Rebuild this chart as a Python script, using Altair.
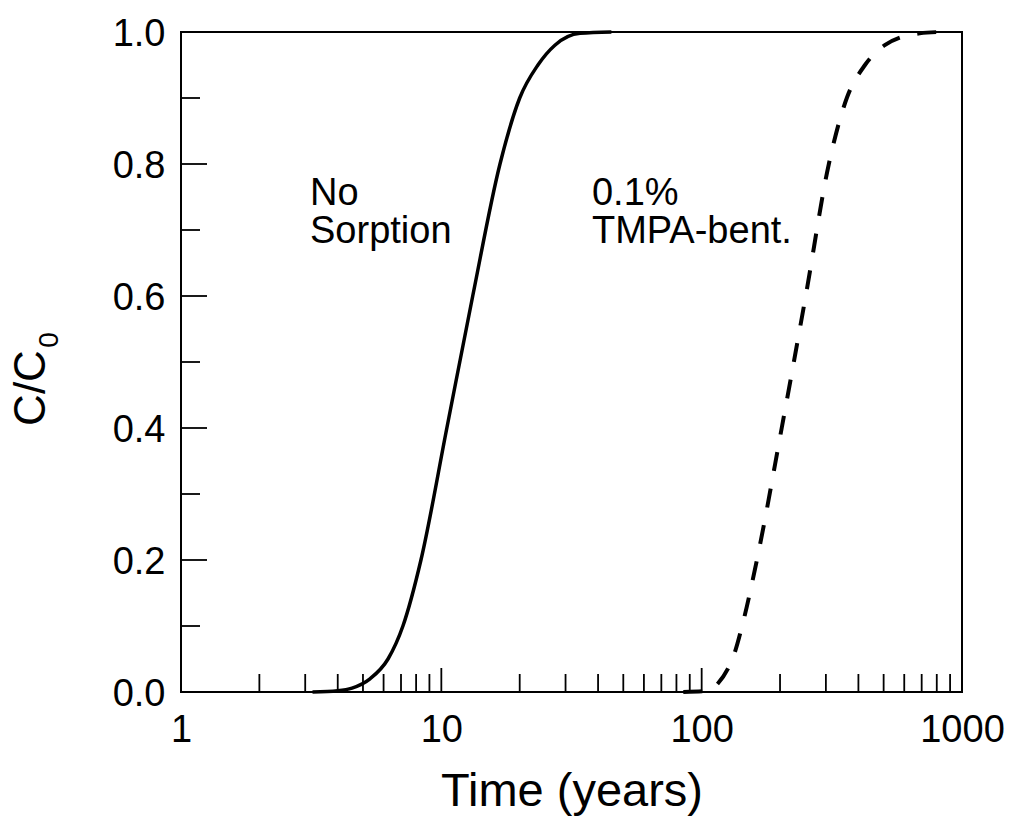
import altair as alt
import pandas as pd

# ---- data ----
solid_t = [3.2, 4.0, 4.54, 5.32, 6.24, 7.12, 8.35, 10.5, 13.2, 16.8, 20.0, 23.5, 27.3, 34.1, 45.0]
solid_c = [0.0, 0.002, 0.006, 0.02, 0.05, 0.1, 0.2, 0.4, 0.6, 0.8, 0.9, 0.95, 0.98, 0.998, 1.0]

dash_t = [85, 108, 115, 126, 134, 143, 163, 203, 251, 308, 361, 424, 505, 688, 822]
dash_c = [0.0, 0.002, 0.012, 0.035, 0.06, 0.1, 0.2, 0.4, 0.6, 0.8, 0.9, 0.95, 0.98, 0.998, 1.0]

x_minor = [2, 3, 4, 5, 6, 7, 8, 9, 20, 30, 40, 50, 60, 70, 80, 90, 200, 300, 400, 500, 600, 700, 800, 900]
x_major = [10, 100]
x_labels = [1, 10, 100, 1000]
y_minor = [0.1, 0.3, 0.5, 0.7, 0.9]
y_major = [0.2, 0.4, 0.6, 0.8]
y_labels = [0.0, 0.2, 0.4, 0.6, 0.8, 1.0]

notes_text = ["No\nSorption", "0.1%\nTMPA-bent."]
notes_t = [3.13, 37.9]
notes_c = [0.738, 0.738]

W, H = 781, 660
FONT = "Liberation Sans"

xs = alt.Scale(type="log", domain=[1, 1000])
ys = alt.Scale(domain=[0, 1], nice=False, zero=False)

x_axis = alt.Axis(values=x_labels, format="d", ticks=False, tickSize=0, domain=False, grid=False,
                  labelFont=FONT, labelFontSize=38, labelColor="black", labelPadding=19,
                  labelFlush=False, labelOverlap=False, labelBound=False,
                  title="Time (years)", titleFont=FONT, titleFontSize=47, titleFontWeight="normal",
                  titleColor="black", titleBaseline="alphabetic", titleY=113)
y_axis = alt.Axis(values=y_labels, format=".1f", ticks=False, tickSize=0, domain=False, grid=False,
                  labelFont=FONT, labelFontSize=38, labelColor="black", labelPadding=16,
                  labelFlush=False, labelOverlap=False, labelBound=False,
                  labelOffset=2, title=None)

X = lambda: alt.X("t:Q", scale=xs, axis=x_axis)
Y = lambda: alt.Y("c:Q", scale=ys, axis=y_axis)

solid = alt.Chart(pd.DataFrame({"t": solid_t, "c": solid_c})).mark_line(
    color="black", strokeWidth=3.5, interpolate="monotone").encode(x=X(), y=Y())
dashed = alt.Chart(pd.DataFrame({"t": dash_t, "c": dash_c})).mark_line(
    color="black", strokeWidth=4, strokeDash=[19, 18], interpolate="monotone").encode(x=X(), y=Y())

xmin = alt.Chart(pd.DataFrame({"t": x_minor})).mark_rule(color="black", strokeWidth=1.8).encode(
    x=X(), y=alt.value(H), y2=alt.value(H - 18))
xmaj = alt.Chart(pd.DataFrame({"t": x_major})).mark_rule(color="black", strokeWidth=1.8).encode(
    x=X(), y=alt.value(H), y2=alt.value(H - 24))
ymin = alt.Chart(pd.DataFrame({"c": y_minor})).mark_rule(color="black", strokeWidth=1.8).encode(
    y=Y(), x=alt.value(0), x2=alt.value(19))
ymaj = alt.Chart(pd.DataFrame({"c": y_major})).mark_rule(color="black", strokeWidth=1.8).encode(
    y=Y(), x=alt.value(0), x2=alt.value(26))

notes = alt.Chart(pd.DataFrame({"t": notes_t, "c": notes_c, "txt": notes_text})).mark_text(
    font=FONT, fontSize=38, align="left", baseline="alphabetic", color="black",
    lineBreak="\n", lineHeight=38).encode(x=X(), y=Y(), text="txt:N")

ytitle_main = alt.Chart(pd.DataFrame({"s": ["C/C"]})).mark_text(
    font=FONT, fontSize=44, angle=270, align="center", baseline="alphabetic", color="black").encode(
    x=alt.value(-136), y=alt.value(356), text="s:N")
ytitle_sub = alt.Chart(pd.DataFrame({"s": ["0"]})).mark_text(
    font=FONT, fontSize=28, angle=270, align="center", baseline="alphabetic", color="black").encode(
    x=alt.value(-123), y=alt.value(308), text="s:N")

chart = alt.layer(solid, dashed, xmin, xmaj, ymin, ymaj, notes, ytitle_main, ytitle_sub).properties(
    width=W, height=H,
    autosize=alt.AutoSizeParams(type="none"),
    padding={"left": 181, "top": 32, "right": 51, "bottom": 130},
    background="white",
).configure_view(stroke="black", strokeWidth=2)

chart.save("out.html", embed_options={"renderer": "svg", "actions": False})
